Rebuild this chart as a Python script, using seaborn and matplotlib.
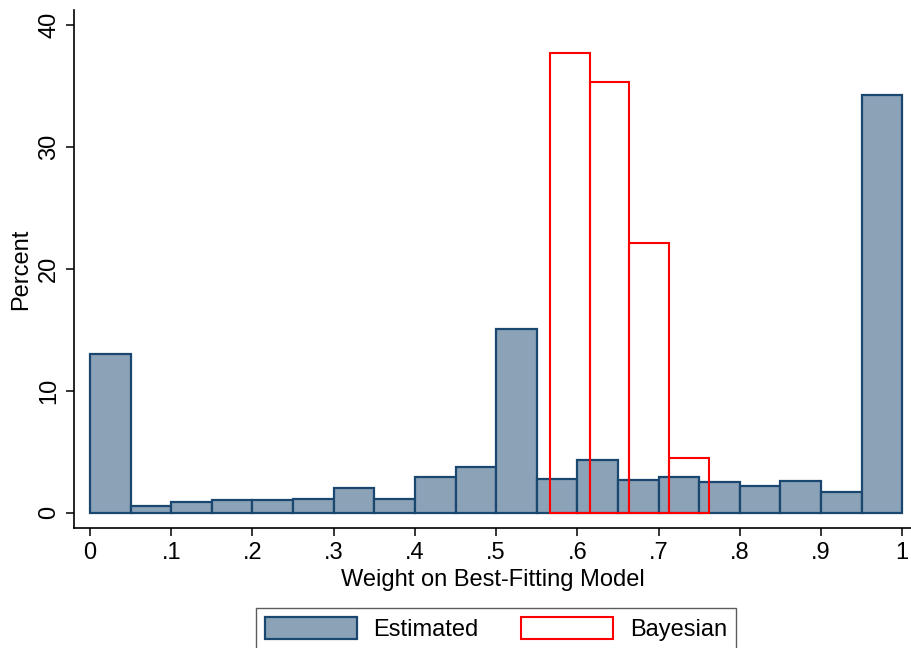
import numpy as np
import pandas as pd
import matplotlib
matplotlib.use("Agg")
import matplotlib.pyplot as plt
import seaborn as sns
from matplotlib.patches import Patch

# ---- data (percent per bin) ----
est_edges = [0.00, 0.05, 0.10, 0.15, 0.20, 0.25, 0.30, 0.35, 0.40, 0.45, 0.50,
             0.55, 0.60, 0.65, 0.70, 0.75, 0.80, 0.85, 0.90, 0.95, 1.00]
est_pct = [13.0, 0.57, 0.9, 1.06, 1.04, 1.15, 1.99, 1.12, 2.92, 3.76, 15.05,
           2.78, 4.34, 2.65, 2.94, 2.49, 2.16, 2.62, 1.70, 34.2]
bay_edges = [0.566, 0.615, 0.664, 0.713, 0.762]
bay_pct = [37.65, 35.33, 22.08, 4.51]
xtick_vals = [0, .1, .2, .3, .4, .5, .6, .7, .8, .9, 1]
xtick_labels = ["0", ".1", ".2", ".3", ".4", ".5", ".6", ".7", ".8", ".9", "1"]
ytick_vals = [0, 10, 20, 30, 40]
ytick_labels = ["0", "10", "20", "30", "40"]

est_centers = [(a + b) / 2 for a, b in zip(est_edges[:-1], est_edges[1:])]
bay_centers = [(a + b) / 2 for a, b in zip(bay_edges[:-1], bay_edges[1:])]
est_df = pd.DataFrame({"w": est_centers, "pct": est_pct})
bay_df = pd.DataFrame({"w": bay_centers, "pct": bay_pct})

sns.set_style("ticks")
plt.rcParams["font.family"] = ["Liberation Sans", "DejaVu Sans"]
plt.rcParams["text.color"] = "black"
plt.rcParams["axes.labelcolor"] = "black"
plt.rcParams["xtick.color"] = "black"
plt.rcParams["ytick.color"] = "black"
FS = 17

fig = plt.figure(figsize=(9.12, 6.48), dpi=100)
ax = fig.add_axes([74 / 912, 1 - 528 / 648, 1 - 74 / 912, (528 - 10) / 648])

FILL = "#8CA3B7"
EDGE = "#1A476F"
sns.histplot(data=est_df, x="w", weights="pct", bins=est_edges, stat="count",
             ax=ax, color=FILL, edgecolor=EDGE, linewidth=1.6, alpha=1)
sns.histplot(data=bay_df, x="w", weights="pct", bins=bay_edges, stat="count",
             ax=ax, fill=True, facecolor="none", edgecolor="#FF0000",
             linewidth=1.5, alpha=1)

ax.set_xlim(-0.0197, 1.012)
ax.set_ylim(-1.25, 41.2)
ax.set_xticks(xtick_vals)
ax.set_xticklabels(xtick_labels, fontsize=FS)
ax.set_yticks(ytick_vals)
ax.set_yticklabels(ytick_labels, fontsize=FS, rotation=90, va="center")
ax.tick_params(axis="both", direction="out", length=6, width=1.1, color="black",
               labelcolor="black", pad=4)
ax.set_xlabel("Weight on Best-Fitting Model", fontsize=FS, labelpad=4, color="black")
ax.set_ylabel("Percent", fontsize=FS, labelpad=4, color="black")
sns.despine(ax=ax, top=True, right=True)
for s in ["left", "bottom"]:
    ax.spines[s].set_linewidth(1.2)
    ax.spines[s].set_color("black")

handles = [Patch(facecolor=FILL, edgecolor=EDGE, linewidth=1.6),
           Patch(facecolor="white", edgecolor="#FF0000", linewidth=1.5)]
leg = fig.legend(handles, ["Estimated", "Bayesian"], ncol=2, loc="upper center",
                 bbox_to_anchor=(496 / 912, 1 - 608 / 648), frameon=True,
                 fancybox=False, edgecolor="#333333", fontsize=FS,
                 handlelength=3.9, handleheight=1.0, handletextpad=0.7,
                 columnspacing=1.8, borderpad=0.4, borderaxespad=0)
leg.get_frame().set_linewidth(1.0)

fig.savefig("out.png", dpi=100)
